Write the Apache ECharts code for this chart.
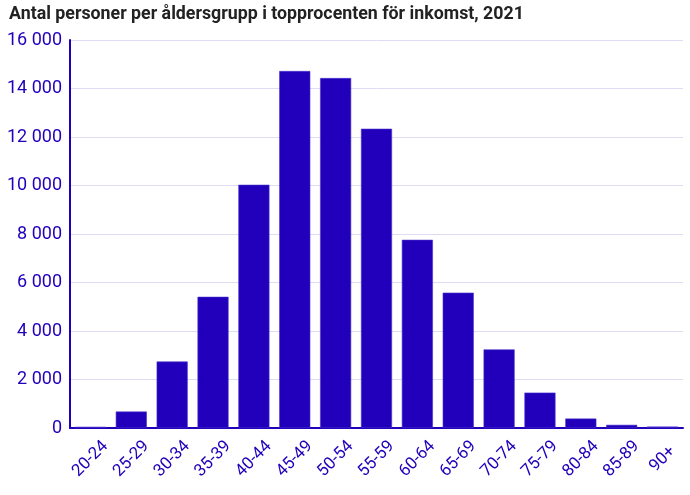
<!DOCTYPE html>
<html><head><meta charset="utf-8">
<script src="https://cdn.jsdelivr.net/npm/echarts@6/dist/echarts.min.js"></script>
<style>html,body{margin:0;padding:0;background:#fff}#c{width:690px;height:495px}</style>
</head><body><div id="c"></div>
<script>
const title = 'Antal personer per åldersgrupp i topprocenten för inkomst, 2021';
const categories = ['20-24','25-29','30-34','35-39','40-44','45-49','50-54','55-59','60-64','65-69','70-74','75-79','80-84','85-89','90+'];
const values = [50, 680, 2740, 5410, 10030, 14720, 14430, 12340, 7760, 5580, 3240, 1460, 390, 130, 60];
const yTicks = [0, 2000, 4000, 6000, 8000, 10000, 12000, 14000, 16000];

const blue = '#2200bb';
const chart = echarts.init(document.getElementById('c'));
chart.setOption({
  animation: false,
  title: { text: title, left: 4, top: 1, textStyle: { fontFamily: 'Roboto', fontWeight: 'bold', fontSize: 17.8, color: '#222' } },
  grid: { left: 70, right: 7, top: 40, bottom: 67 },
  xAxis: {
    type: 'category', data: categories,
    axisLine: { lineStyle: { color: blue, width: 2 } },
    axisTick: { show: false },
    axisLabel: { rotate: 45, align: 'center', verticalAlign: 'middle', color: blue, fontFamily: 'Roboto', fontSize: 17, margin: 31, interval: 0 }
  },
  yAxis: {
    type: 'value', min: yTicks[0], max: yTicks[yTicks.length - 1], interval: 2000,
    axisLine: { show: true, lineStyle: { color: blue, width: 2 } },
    axisTick: { show: false },
    splitLine: { lineStyle: { color: '#dcdcf5', width: 1 } },
    axisLabel: { color: blue, fontFamily: 'Roboto', fontSize: 18, margin: 8,
      formatter: v => String(v).replace(/\B(?=(\d{3})+(?!\d))/g, ' ') }
  },
  series: [{
    type: 'bar', data: values, barCategoryGap: '24%',
    itemStyle: { color: blue, borderColor: '#4433cc', borderWidth: 0.6 }
  }]
});
</script></body></html>
